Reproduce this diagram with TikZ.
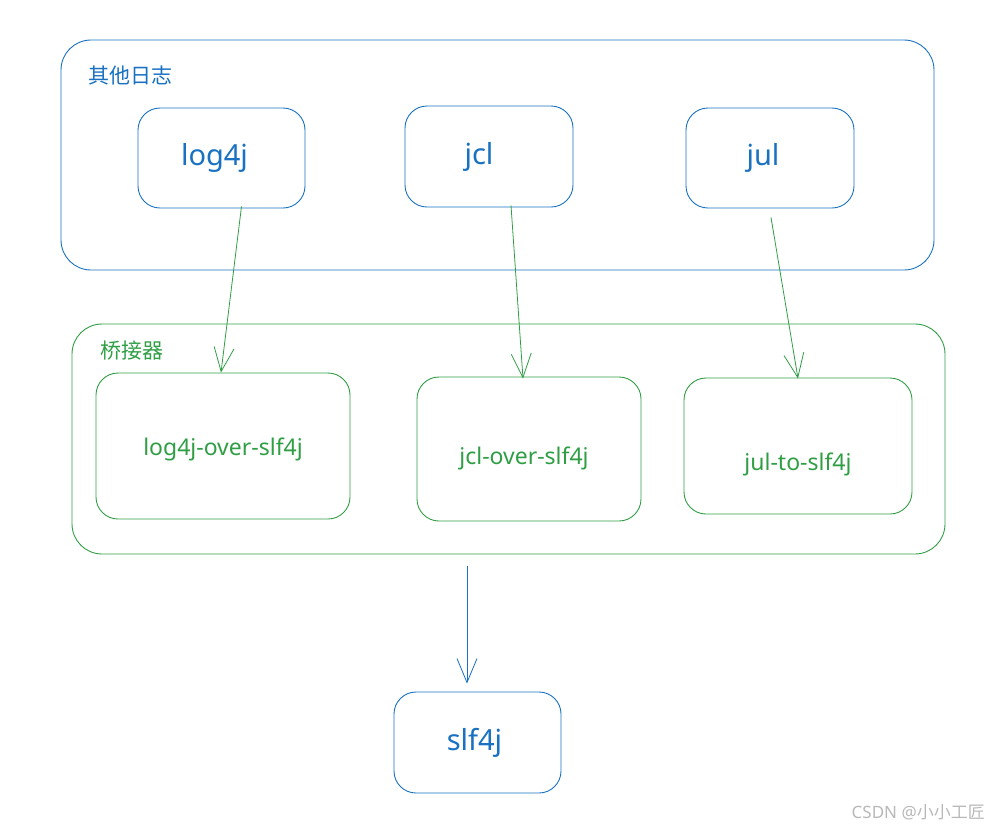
\documentclass[tikz,border=0pt]{standalone}
\usepackage{fontspec}
\setmainfont{Noto Sans}
\newfontfamily\cjk{Noto Sans CJK SC}
\usetikzlibrary{arrows.meta,calc}
\definecolor{eblue}{HTML}{1971C2}
\definecolor{egreen}{HTML}{2F9E44}
\definecolor{wm}{HTML}{B8B8B8}
\tikzset{
  group/.style={draw, line width=0.9pt, rounded corners=30pt, inner sep=0pt, rectangle},
  box/.style={draw, line width=0.9pt, rounded corners=22pt, inner sep=0pt, rectangle, align=center},
  bluebox/.style={box, draw=eblue, text=eblue, font=\fontsize{29}{32}\selectfont},
  greenbox/.style={box, draw=egreen, text=egreen, font=\fontsize{23}{26}\selectfont},
  grouplabel/.style={anchor=west, inner sep=0pt, font=\cjk\fontsize{21}{24}\selectfont},
  garrow/.style={draw=egreen, line width=0.8pt, -{Straight Barb[length=24pt,width=20pt,line width=0.8pt]}},
  barrow/.style={draw=eblue, line width=0.8pt, -{Straight Barb[length=24pt,width=20pt,line width=0.8pt]}},
}
\begin{document}
\begin{tikzpicture}[x=1pt,y=-1pt]
\useasboundingbox (0,0) rectangle (989,831);
% groups
\node[group, draw=eblue, minimum width=873pt, minimum height=230pt] (others) at (497.5,155) {};
\node[grouplabel, text=eblue] (otherslabel) at (88,75) {其他日志};
\node[group, draw=egreen, minimum width=873pt, minimum height=230pt] (bridge) at (508.5,439) {};
\node[grouplabel, text=egreen] (bridgelabel) at (100,351) {桥接器};
% top boxes
\node[bluebox, minimum width=167pt, minimum height=100pt] (log4j) at (221.5,158) {\raisebox{3pt}{log4j\hspace{14pt}}};
\node[bluebox, minimum width=168pt, minimum height=101pt] (jcl) at (489,156.5) {\raisebox{-2pt}{jcl\hspace{20pt}}};
\node[bluebox, minimum width=168pt, minimum height=100pt] (jul) at (770,158) {\raisebox{-2pt}{jul\hspace{14pt}}};
% bridge boxes
\node[greenbox, minimum width=254pt, minimum height=146pt] (l4o) at (223,446) {\raisebox{-9pt}[0pt][0pt]{log4j-over-slf4j}};
\node[greenbox, minimum width=224pt, minimum height=144pt] (jclo) at (529,449) {\raisebox{-15pt}[0pt][0pt]{jcl-over-slf4j\hspace{10pt}}};
\node[greenbox, minimum width=228pt, minimum height=136pt] (julo) at (798,446) {\raisebox{-24pt}[0pt][0pt]{jul-to-slf4j}};
% slf4j
\node[bluebox, minimum width=167pt, minimum height=101pt] (slf4j) at (477.5,742.5) {\raisebox{-2pt}{slf4j\hspace{6pt}}};
% arrows
\draw[garrow] ([xshift=20pt,yshift=2pt]log4j.south) -- ([xshift=-2pt]l4o.north);
\draw[garrow] ([xshift=22pt,yshift=2pt]jcl.south) -- ([xshift=-6pt,yshift=-2pt]jclo.north);
\draw[garrow] ([xshift=1pt,yshift=-9pt]jul.south) -- ([yshift=-1pt]julo.north);
\coordinate (bstart) at ([xshift=-41.5pt,yshift=-12pt]bridge.south);
\draw[barrow] (bstart) -- ([xshift=-10.5pt,yshift=8pt]slf4j.north);
% watermark
\node[anchor=east, inner sep=0pt, text=wm, font=\fontsize{17}{19}\selectfont] (wmark) at (985,812) {CSDN @{\cjk 小小工匠}};
\end{tikzpicture}
\end{document}
